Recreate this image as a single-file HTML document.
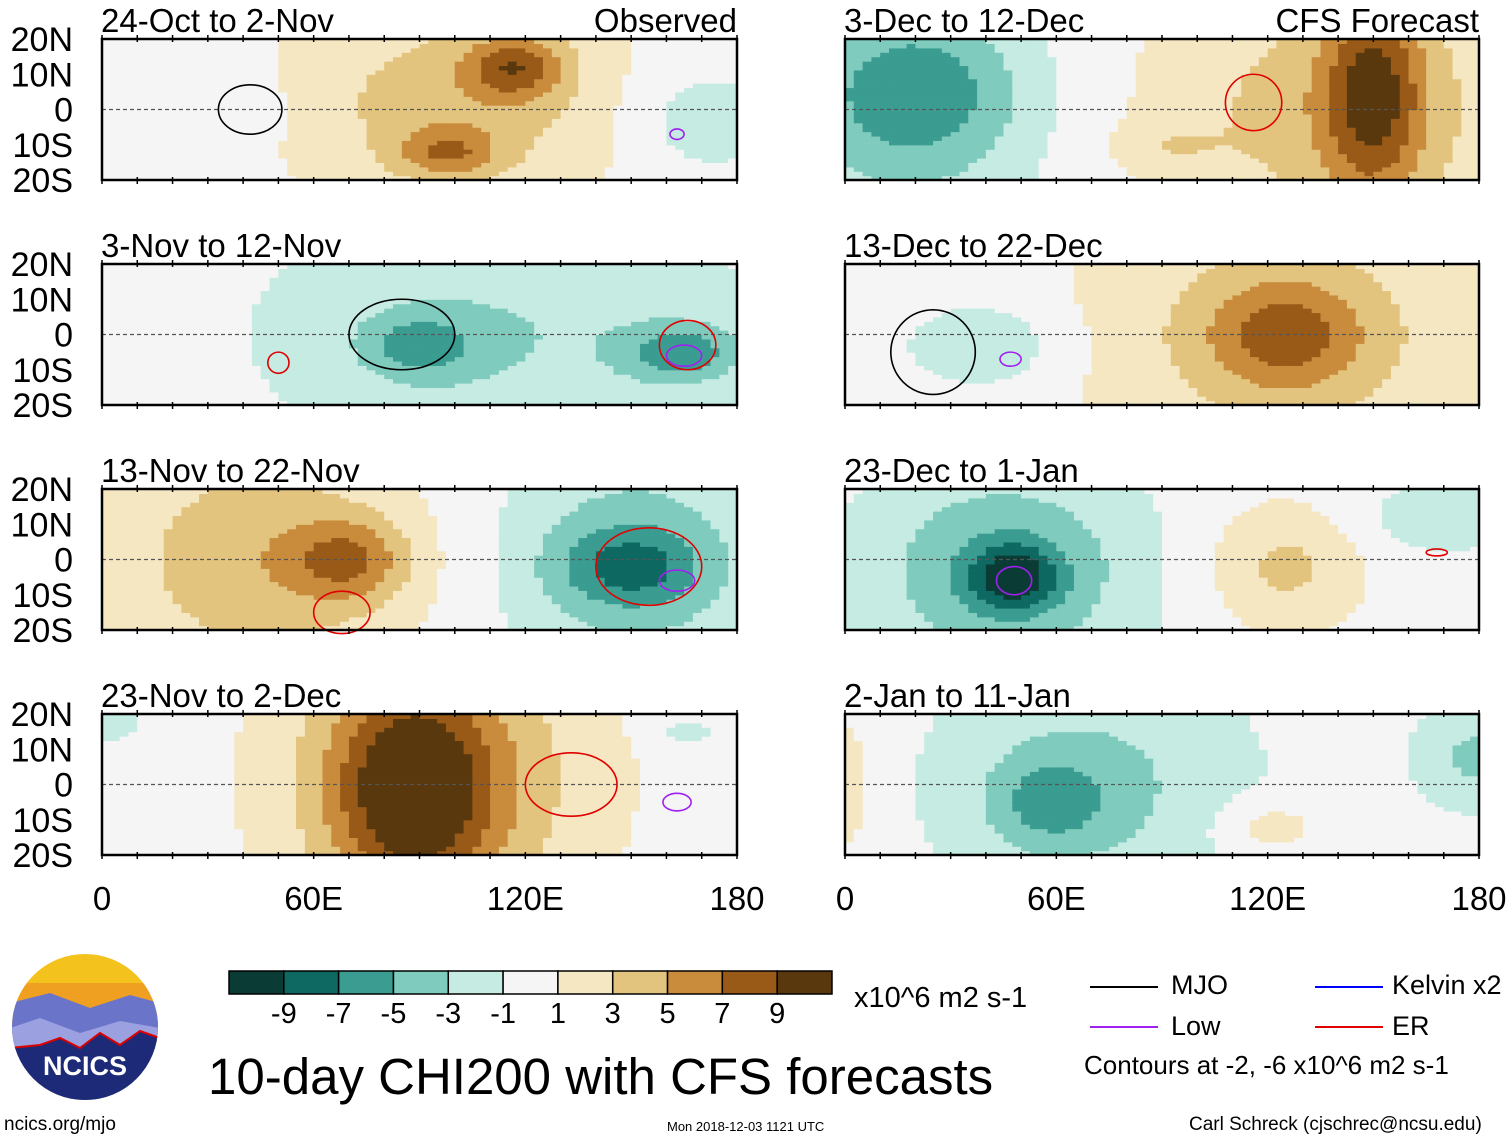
<!DOCTYPE html>
<html><head><meta charset="utf-8"><style>
body{margin:0;background:#fff;width:1510px;height:1142px;overflow:hidden;font-family:"Liberation Sans",sans-serif;}
#root{position:relative;width:1510px;height:1142px;}
.t{position:absolute;white-space:nowrap;color:#000;}
</style></head><body><div id="root">
<svg id="svg" width="1510" height="1142" style="position:absolute;left:0;top:0"></svg>
</div>
<script>
// ---- data ----
const panelTitles = ["24-Oct to 2-Nov","3-Nov to 12-Nov","13-Nov to 22-Nov","23-Nov to 2-Dec","3-Dec to 12-Dec","13-Dec to 22-Dec","23-Dec to 1-Jan","2-Jan to 11-Jan"];
// anomaly centers: [lon, lat, amplitude, lonRadius, latRadius]
const blobs0 = [[117,12,6,14,9],[98,-12,4.5,14,7],[100,2,4,50,30],[170,-3,-2.5,22,15],[40,0,-1.5,12,12]];
const blobs1 = [[90,-3,-4,16,9],[165,-5,-5,16,8],[115,0,-3,70,35],[10,0,1.2,10,12]];
const blobs2 = [[70,0,5,16,11],[45,0,4.5,45,35],[150,-2,-4.5,20,11],[150,0,-4,38,35]];
const blobs3 = [[88,-2,8,22,30],[95,2,5,45,45],[165,15,-2,10,5],[3,18,-3,8,5]];
const blobs4 = [[20,5,-4,28,20],[18,0,-3,40,40],[150,5,7,14,30],[140,0,4,55,40],[90,-10,1.5,15,6]];
const blobs5 = [[40,-3,-3,22,12],[125,0,5,22,16],[125,0,3.5,60,40]];
const blobs6 = [[48,-5,-7,12,9],[45,-3,-5,40,30],[125,-2,3.5,22,18],[170,12,-2.5,25,10]];
const blobs7 = [[58,-5,-3.5,16,12],[70,0,-3.5,45,35],[120,-12,2.5,15,8],[180,8,-3.5,18,15],[0,0,2,10,25]];
const allBlobs = [blobs0,blobs1,blobs2,blobs3,blobs4,blobs5,blobs6,blobs7];
// contour ellipses: [lon, lat, lonRadius, latRadius, type]
const contours0 = [[42,0,9,7,"mjo"],[163,-7,2,1.5,"low"]];
const contours1 = [[85,0,15,10,"mjo"],[165,-6,5,3,"low"],[166,-3,8,7,"er"],[50,-8,3,3,"er"]];
const contours2 = [[155,-2,15,11,"er"],[163,-6,5,3,"low"],[68,-15,8,6,"er"]];
const contours3 = [[133,0,13,9,"er"],[163,-5,4,2.5,"low"]];
const contours4 = [[116,2,8,8,"er"]];
const contours5 = [[25,-5,12,12,"mjo"],[47,-7,3,2,"low"]];
const contours6 = [[48,-6,5,4,"low"],[168,2,3,1,"er"]];
const contours7 = [];
const allContours = [contours0,contours1,contours2,contours3,contours4,contours5,contours6,contours7];
const levelBounds = [-9,-7,-5,-3,-1,1,3,5,7,9];
const levelColors = ["#0b3b35","#0d6961","#3b9c91","#7fcbbd","#c5ebe2","#f5f5f5","#f6e7c3","#e3c47e","#c98b3c","#995a18","#5a380e"];
const yTicks = ["20N","10N","0","10S","20S"];
const xTicks = ["0","60E","120E","180"];
const contourColor = {mjo:"#000",low:"#a020f0",er:"#e00000",kelvin:"#0000ff"};

// ---- layout ----
const NS="http://www.w3.org/2000/svg";
const svg=document.getElementById('svg');
function el(tag,attrs,parent){const e=document.createElementNS(NS,tag);for(const k in attrs)e.setAttribute(k,attrs[k]);(parent||svg).appendChild(e);return e;}
const colX=[102,845], colW=[635,634], rowY=[39,264,489,714], ph=141;
function colorFor(v){let i=0;while(i<levelBounds.length&&v>levelBounds[i])i++;return levelColors[i];}

allBlobs.forEach((blobs,p)=>{
  const col=p<4?0:1,row=p%4;
  const x0=colX[col],w=colW[col],y0=rowY[row];
  const xs=lon=>x0+lon/180*w, ys=lat=>y0+(20-lat)/40*ph;
  const g=el('g',{});
  
  
  const dl=2.5,dt=1.25;
  for(let lon=0;lon<180;lon+=dl){for(let lat=-20;lat<20;lat+=dt){
    const cl=lon+dl/2,ct=lat+dt/2;let v=0;
    blobs.forEach(b=>{const dx=(cl-b[0])/b[3],dy=(ct-b[1])/b[4];v+=b[2]*Math.exp(-(dx*dx+dy*dy));});
    const r=el('rect',{x:xs(lon),y:ys(lat+dt),width:xs(lon+dl)-xs(lon)+0.6,height:ys(lat)-ys(lat+dt)+0.6,fill:colorFor(v)},g);
    
    
  }}
  const eq=el('line',{x1:x0,x2:x0+w,y1:ys(0),y2:ys(0),stroke:'#555','stroke-dasharray':'4,3','stroke-width':1.2},g);
  
  
  allContours[p].forEach(c=>{
    const e=el('ellipse',{cx:xs(c[0]),cy:ys(c[1]),rx:c[2]/180*w,ry:c[3]/40*ph,fill:'none',stroke:contourColor[c[4]],'stroke-width':1.6},g);
    
    
  });
  const fr=el('rect',{x:x0,y:y0,width:w,height:ph,fill:'none',stroke:'#000','stroke-width':2.5},g);
  
  
  for(let lon=0;lon<=180;lon+=10){el('line',{x1:xs(lon),x2:xs(lon),y1:y0-4,y2:y0+3,stroke:'#000','stroke-width':1.5},g);el('line',{x1:xs(lon),x2:xs(lon),y1:y0+ph-3,y2:y0+ph+4,stroke:'#000','stroke-width':1.5},g);}
  if(col===0){yTicks.forEach((t,i)=>{
    const tx=el('text',{x:73,y:y0+i*ph/4+12,'text-anchor':'end','font-size':34,'font-family':'Liberation Sans, sans-serif'},g);
    tx.textContent=t;
    
    
  });}
  const tt=el('text',{x:x0-1,y:y0-7,'font-size':33,'font-family':'Liberation Sans, sans-serif'},g);
  tt.textContent=panelTitles[p];
  
  
  if(row===3){xTicks.forEach((t,i)=>{
    const tx=el('text',{x:x0+i*w/3,y:910,'text-anchor':'middle','font-size':33,'font-family':'Liberation Sans, sans-serif'},g);
    tx.textContent=t;
    
    
  });}
});
[["Observed",737],["CFS Forecast",1479]].forEach(a=>{
  const tx=el('text',{x:a[1],y:32,'text-anchor':'end','font-size':33,'font-family':'Liberation Sans, sans-serif'});
  tx.textContent=a[0];
  
  
});
// colorbar
const cbx=229,cbw=603/11;
levelColors.forEach((c,i)=>{
  const r=el('rect',{x:cbx+i*cbw,y:971,width:cbw,height:23,fill:c,stroke:'#000','stroke-width':1.5});
  
  
});
levelBounds.forEach((b,i)=>{
  const tx=el('text',{x:cbx+(i+1)*cbw,y:1023,'text-anchor':'middle','font-size':29,'font-family':'Liberation Sans, sans-serif'});
  tx.textContent=b;
  
  
});
// legend lines
[[1090,987,"mjo"],[1090,1027,"low"],[1315,987,"kelvin"],[1315,1027,"er"]].forEach(l=>{
  const ln=el('line',{x1:l[0],x2:l[0]+68,y1:l[1],y2:l[1],stroke:contourColor[l[2]],'stroke-width':2});
  
  
});
</script>
<div class="t" style="left:854px;top:982px;font-size:29px">x10^6 m2 s-1</div>
<div class="t" style="left:1171px;top:970px;font-size:27px">MJO</div>
<div class="t" style="left:1171px;top:1011px;font-size:27px">Low</div>
<div class="t" style="left:1392px;top:970px;font-size:27px">Kelvin x2</div>
<div class="t" style="left:1392px;top:1011px;font-size:27px">ER</div>
<div class="t" style="left:1084px;top:1050px;font-size:26px">Contours at -2, -6 x10^6 m2 s-1</div>
<div class="t" style="left:208px;top:1047px;font-size:51px">10-day CHI200 with CFS forecasts</div>
<div class="t" style="left:4px;top:1114px;font-size:19px">ncics.org/mjo</div>
<div class="t" style="left:667px;top:1119px;font-size:13px">Mon 2018-12-03 1121 UTC</div>
<div class="t" style="left:1189px;top:1114px;font-size:19px">Carl Schreck (cjschrec@ncsu.edu)</div>
<svg style="position:absolute;left:10px;top:953px" width="150" height="150">
<defs><clipPath id="c"><circle cx="75" cy="74" r="73"/></clipPath></defs>
<g clip-path="url(#c)"><rect width="150" height="150" fill="#f3c21c"/><rect y="30" width="150" height="40" fill="#f0a020"/>
<path d="M0 50 L40 40 L80 55 L120 42 L150 50 L150 150 L0 150Z" fill="#6a74c8"/>
<path d="M0 75 L30 65 L70 80 L110 68 L150 75 L150 150 L0 150Z" fill="#9aa0e0"/>
<path d="M0 95 L30 92 L50 85 L70 95 L90 80 L110 92 L130 78 L150 85 L150 150 L0 150Z" fill="#1c2a78" stroke="#d00" stroke-width="2"/></g>
<text x="75" y="122" text-anchor="middle" font-size="27" font-weight="bold" fill="#fff" font-family="Liberation Sans, sans-serif">NCICS</text>
</svg>
</body></html>
